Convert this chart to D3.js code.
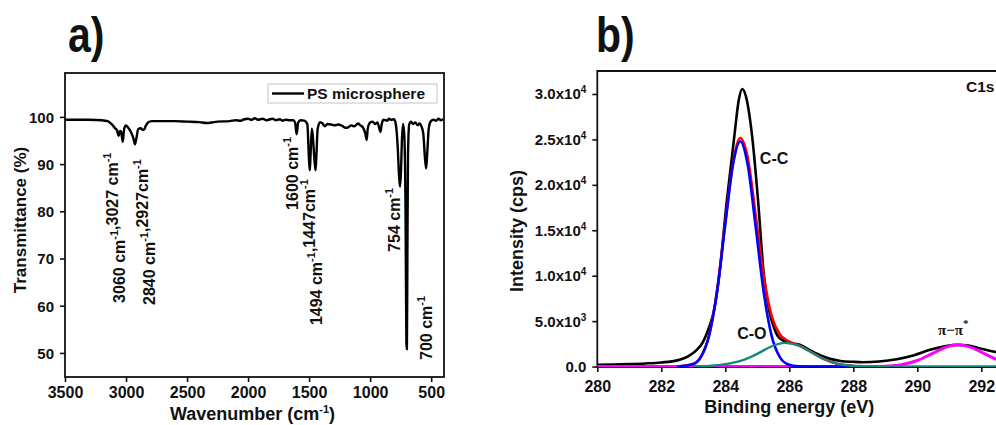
<!DOCTYPE html>
<html><head><meta charset="utf-8">
<script src="https://cdn.jsdelivr.net/npm/d3@7"></script>
<style>
html,body{margin:0;padding:0;background:#fff;}
svg{display:block;}
text{font-family:"Liberation Sans",Arial,sans-serif;font-weight:bold;fill:#111;}
</style></head>
<body>
<svg id="chart" width="996" height="425"></svg>
<script>
// ---------------- DATA ----------------
// a) FTIR spectrum of PS microspheres: [wavenumber (cm-1), transmittance (%)]
const irSpectrum = [
 [3500,99.4],[3300,99.4],[3200,99.3],[3150,99.1],[3120,98.5],[3090,97.6],[3075,97.2],[3060,96.0],
 [3050,97.0],[3040,96.8],[3027,94.7],[3015,97.5],[3000,98.2],[2985,97.8],[2960,96.8],[2940,95.5],
 [2927,94.2],[2915,95.5],[2900,97.4],[2880,97.6],[2860,97.2],[2850,97.4],[2840,98.0],[2820,98.8],
 [2790,99.1],[2700,99.1],[2600,99.1],[2500,99.0],[2400,98.9],[2340,98.7],[2300,98.8],[2250,99.0],
 [2150,99.1],[2100,99.3],[2060,99.2],[2030,99.5],[2000,99.6],[1970,99.4],[1945,99.7],[1920,99.4],
 [1880,99.6],[1850,99.3],[1800,99.6],[1770,99.3],[1740,99.5],[1720,99.2],[1690,99.4],[1660,99.3],
 [1630,99.3],[1615,98.8],[1602,96.3],[1590,98.8],[1570,99.3],[1540,99.2],[1515,98.5],[1500,90.5],
 [1494,88.7],[1488,92.0],[1478,97.5],[1470,96.0],[1455,90.5],[1447,88.7],[1440,92.0],[1430,97.5],
 [1410,98.9],[1390,98.6],[1370,98.0],[1350,98.5],[1320,98.4],[1290,98.2],[1260,98.4],[1230,98.1],
 [1200,97.7],[1180,97.8],[1155,98.2],[1130,98.0],[1100,98.6],[1080,98.2],[1060,97.8],[1040,96.5],
 [1028,95.1],[1020,97.5],[1000,98.8],[980,99.0],[960,98.5],[940,98.8],[915,96.8],[905,98.5],
 [890,99.4],[860,99.2],[845,99.6],[830,99.4],[805,99.5],[790,98.5],[775,94.0],[762,87.0],
 [755,85.2],[748,88.0],[740,95.0],[730,98.5],[720,96.0],[710,80.0],[703,52.0],[699,50.8],
 [695,70.0],[690,92.0],[680,98.4],[665,99.0],[650,98.5],[630,98.8],[610,98.2],[595,98.6],
 [580,98.0],[565,96.5],[550,91.0],[541,89.1],[532,92.5],[520,97.5],[505,99.0],[480,99.4],
 [460,99.2],[440,99.6],[420,99.3],[400,99.5]
];
const irXTicks = [3500,3000,2500,2000,1500,1000,500];
const irYTicks = [50,60,70,80,90,100];
const irLegend = "PS microsphere";
// peak annotations: text pieces (base, superscript) + anchor in data units
const irAnnText = [
 [["3060 cm","-1"],[",3027 cm","-1"]],
 [["2840 cm","-1"],[",2927cm","-1"]],
 [["1600 cm","-1"]],
 [["1494 cm","-1"],[",1447cm","-1"]],
 [["754 cm","-1"]],
 [["700 cm","-1"]]
];
const irAnnWn = [3008,2763,1591,1394,756,493];
const irAnnT  = [60.6,60.15,80.3,55.9,71.4,48.5];

// b) XPS C1s spectrum: [binding energy (eV), intensity (cps)]
const xpsRaw = [
 [280.0,190],[280.5,220],[281.0,270],[281.5,340],[282.0,450],[282.5,680],[282.9,1250],[283.1,1800],
 [283.3,2700],[283.5,4400],[283.65,6200],[283.83,10650],[284.04,18000],[284.28,25300],[284.42,29300],
 [284.53,30550],[284.64,29800],[284.84,25300],[285.03,18000],[285.19,10650],[285.38,6000],[285.52,4300],
 [285.65,3300],[285.85,2800],[286.05,2580],[286.33,2390],[286.7,1700],[287.0,1200],[287.27,850],
 [287.6,620],[288.0,520],[288.3,480],[288.8,560],[289.36,810],[289.9,1250],[290.4,1840],[290.9,2250],
 [291.23,2390],[291.6,2300],[292.0,1950],[292.37,1650],[292.7,1500],[293.0,1400]
];
const xpsFit = [
 [282.5,5],[283.0,295],[283.25,1160],[283.5,3560],[283.75,8570],[284.0,15890],[284.25,22600],
 [284.47,25150],[284.7,23000],[284.95,16640],[285.2,9970],[285.45,5550],[285.7,3560],[285.95,2840],
 [286.3,2330],[286.7,1550],[287.1,800],[287.5,310],[288.0,90]
];
const xpsCC = [
 [282.5,5],[283.0,275],[283.25,1120],[283.5,3490],[283.75,8420],[284.0,15640],[284.25,22420],
 [284.47,24780],[284.7,22200],[284.95,15340],[285.2,8170],[285.45,3350],[285.7,1060],[285.95,260],
 [286.3,30],[286.8,0],[288.0,0]
];
const xpsCO = [
 [283.0,20],[283.5,75],[284.0,250],[284.5,640],[285.0,1400],[285.4,2150],[285.85,2600],[286.3,2300],
 [286.7,1550],[287.1,800],[287.5,300],[288.0,80],[288.5,15],[289.0,0],[293.0,0]
];
const xpsPi = [
 [280.0,0],[288.0,0],[288.5,6],[289.0,41],[289.5,200],[290.0,665],[290.5,1485],[290.9,2130],
 [291.28,2390],[291.7,2080],[292.1,1420],[292.5,750],[293.0,237]
];
const xpsXTicks = [280,282,284,286,288,290,292];
const xpsYTicks = [0,5000,10000,15000,20000,25000,30000];
const xpsYMant  = ["0.0","5.0x10","1.0x10","1.5x10","2.0x10","2.5x10","3.0x10"];
const xpsYExp   = ["","3","4","4","4","4","4"];
// labels: text, position in data units
const xpsLabels = [
 {t:"C-C", e:285.08, i:22300},
 {t:"C-O", e:284.37, i:3030}
];

// ---------------- DRAW ----------------
const svg = d3.select("#chart");
svg.append("rect").attr("width",996).attr("height",425).attr("fill","#fff");

// panel letters (condensed bold)
[["a)",68],["b)",596]].forEach(([s,x])=>{
  svg.append("text").attr("transform",`translate(${x},52) scale(0.82,1)`)
    .style("font-size","50px").text(s);
});

// ===== Panel a =====
const A = {l:65, r:444, t:73, b:377};
const xA = d3.scaleLinear().domain([3500,395]).range([A.l,A.r]);
const yA = d3.scaleLinear().domain([44.9,109.3]).range([A.b,A.t]);
const gA = svg.append("g");

const axA_x = gA.append("g").attr("transform",`translate(0,${A.b})`)
  .call(d3.axisBottom(xA).tickValues(irXTicks).tickSize(5).tickSizeOuter(0).tickFormat(d3.format("d")));
axA_x.selectAll("text").attr("y",21).attr("dy",0).style("font-size","16px");
const axA_y = gA.append("g").attr("transform",`translate(${A.l},0)`)
  .call(d3.axisLeft(yA).tickValues(irYTicks).tickSize(5).tickSizeOuter(0).tickFormat(d3.format("d")));
axA_y.selectAll("text").attr("x",-11).attr("dy","0.36em").style("font-size","15px");
[axA_x,axA_y].forEach(a=>{a.select(".domain").remove(); a.selectAll("line").attr("stroke","#111").attr("stroke-width",1.6); a.selectAll("text").attr("fill","#111");});
gA.append("rect").attr("x",A.l).attr("y",A.t).attr("width",A.r-A.l).attr("height",A.b-A.t)
  .attr("fill","none").attr("stroke","#111").attr("stroke-width",1.8);

gA.append("path").datum(irSpectrum)
  .attr("d", d3.line().x(d=>xA(d[0])).y(d=>yA(d[1])).curve(d3.curveMonotoneX))
  .attr("fill","none").attr("stroke","#000").attr("stroke-width",2.4).attr("stroke-linejoin","round");

// axis titles
gA.append("text").attr("transform",`translate(26,220) rotate(-90)`).attr("text-anchor","middle")
  .style("font-size","17px").text("Transmittance (%)");
const tA = gA.append("text").attr("x",(A.l+A.r)/2-2).attr("y",420).attr("text-anchor","middle").style("font-size","18px");
tA.append("tspan").text("Wavenumber (cm");
tA.append("tspan").attr("dy",-7).style("font-size","11px").text("-1");
tA.append("tspan").attr("dy",7).text(")");

// legend
const lg = gA.append("g");
lg.append("rect").attr("x",268).attr("y",84).attr("width",169).attr("height",19)
  .attr("fill","#fff").attr("stroke","#c4c4c4").attr("stroke-width",1);
lg.append("line").attr("x1",272).attr("x2",304).attr("y1",93.5).attr("y2",93.5).attr("stroke","#000").attr("stroke-width",2.4);
lg.append("text").attr("x",307).attr("y",99).style("font-size","15.5px").text(irLegend);

// annotations
irAnnText.forEach((parts,i)=>{
  const t = gA.append("text")
    .attr("transform",`translate(${xA(irAnnWn[i])},${yA(irAnnT[i])}) rotate(-90)`)
    .style("font-size","16px");
  parts.forEach(p=>{
    t.append("tspan").attr("dy",0).text(p[0]);
    t.append("tspan").attr("dy",-7).style("font-size","11px").text(p[1]);
    t.append("tspan").attr("dy",7).text("");
  });
});

// ===== Panel b =====
const B = {l:597.3, r:1013.3, t:71, b:367};
const xB = d3.scaleLinear().domain([280,293]).range([B.l,B.r]);
const yB = d3.scaleLinear().domain([-50,32530]).range([B.b,B.t]);
const gB = svg.append("g");
svg.append("clipPath").attr("id","clipB").append("rect")
  .attr("x",B.l).attr("y",B.t).attr("width",B.r-B.l).attr("height",B.b-B.t);

const axB_x = gB.append("g").attr("transform",`translate(0,${B.b})`)
  .call(d3.axisBottom(xB).tickValues(xpsXTicks).tickSize(5).tickSizeOuter(0).tickFormat(d3.format("d")));
axB_x.selectAll("text").attr("y",25).attr("dy",0).style("font-size","16px");
const axB_y = gB.append("g").attr("transform",`translate(${B.l},0)`)
  .call(d3.axisLeft(yB).tickValues(xpsYTicks).tickSize(5).tickSizeOuter(0).tickFormat(""));
[axB_x,axB_y].forEach(a=>{a.select(".domain").remove(); a.selectAll("line").attr("stroke","#111").attr("stroke-width",1.6); a.selectAll("text").attr("fill","#111");});
xpsYTicks.forEach((v,i)=>{
  const t = gB.append("text").attr("x",B.l-11).attr("y",yB(v)).attr("dy","0.36em")
    .attr("text-anchor","end").style("font-size","15px");
  t.append("tspan").text(xpsYMant[i]);
  if (xpsYExp[i]) t.append("tspan").attr("dy",-6).style("font-size","10px").text(xpsYExp[i]);
});
// frame: left, top, bottom (right edge is outside the picture)
gB.append("path").attr("d",`M${B.r},${B.t}H${B.l}V${B.b}H${B.r}`)
  .attr("fill","none").attr("stroke","#111").attr("stroke-width",1.8);

const lineB = d3.line().x(d=>xB(d[0])).y(d=>yB(d[1])).curve(d3.curveMonotoneX);
const curves = gB.append("g").attr("clip-path","url(#clipB)");
[[xpsRaw,"#000",2.6],[xpsFit,"#ff0000",2.6],[xpsPi,"#ff00ff",3],[xpsCC,"#0000ff",2.6],[xpsCO,"#138a80",2.4]]
  .forEach(([d,c,w])=>{
    curves.append("path").datum(d).attr("d",lineB).attr("fill","none")
      .attr("stroke",c).attr("stroke-width",w).attr("stroke-linejoin","round");
  });

// labels
xpsLabels.forEach(l=>{
  gB.append("text").attr("x",xB(l.e)).attr("y",yB(l.i)).style("font-size","16px").text(l.t);
});
const pi = gB.append("text").attr("x",xB(290.65)).attr("y",yB(3470))
  .style("font-family","'Liberation Serif','Times New Roman',serif").style("font-weight","bold").style("font-size","15px");
pi.append("tspan").text("π−π");
pi.append("tspan").attr("dy",-8).style("font-size","11px").text("*");
gB.append("text").attr("x",966).attr("y",92).style("font-size","15.5px").text("C1s");

gB.append("text").attr("transform",`translate(523,231) rotate(-90)`).attr("text-anchor","middle")
  .style("font-size","18px").text("Intensity (cps)");
gB.append("text").attr("x",xB(286)).attr("y",413).attr("text-anchor","middle")
  .style("font-size","18px").text("Binding energy (eV)");
</script>
</body></html>
